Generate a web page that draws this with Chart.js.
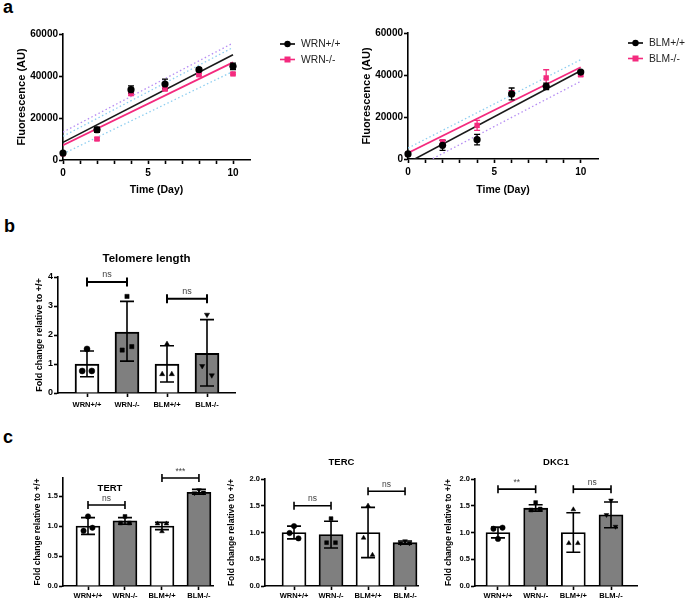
<!DOCTYPE html>
<html>
<head>
<meta charset="utf-8">
<script src="https://cdn.jsdelivr.net/npm/chart.js@4.4.0/dist/chart.umd.min.js"></script>
<style>
body { margin: 0; background: #fff; width: 685px; height: 601px; position: relative; overflow: hidden; font-family: Arial, "Liberation Sans", sans-serif; }
canvas { position: absolute; }
.lab { position: absolute; font-weight: bold; font-size: 18px; line-height: 18px; }
</style>
</head>
<body>
<div class="lab" style="left:3px;top:-2px">a</div>
<div class="lab" style="left:4px;top:217px">b</div>
<div class="lab" style="left:3px;top:428px">c</div>
<script>
/* ============ panel a : fluorescence over time ============ */
const days = [0, 2, 4, 6, 8, 10];
const dayTicks = [0, 1, 2, 3, 4, 5, 6, 7, 8, 9, 10];
const fluoTicks = [0, 20000, 40000, 60000];

const wrnWT = [3300, 14400, 33500, 36200, 43000, 44600];
const wrnWTsd = [400, 1200, 1800, 2300, 800, 1500];
const wrnKO = [3000, 10000, 31600, 33800, 40600, 41000];
const wrnKOsd = [300, 500, 700, 800, 500, 500];

const blmWT = [2400, 6500, 9200, 31000, 34600, 41400];
const blmWTsd = [300, 2400, 2500, 2800, 1500, 500];
const blmKO = [2400, 8100, 16000, 31400, 38600, 40100];
const blmKOsd = [300, 1000, 2400, 1200, 3900, 600];

// fit lines and 95% bands, read at day 0 and day 10
const fitDays = [0, 10];
const wrnWTfit = [8400, 50100];
const wrnKOfit = [7000, 46500];
const wrnBandHi1 = [13300, 55700];
const wrnBandHi2 = [11300, 53600];
const wrnBandLo = [2900, 42200];
const blmWTfit = [-1700, 42000];
const blmKOfit = [2900, 43700];
const blmBandHi = [5200, 47300];
const blmBandLo = [-6000, 37000];

/* ============ panel b : telomere length ============ */
const groups = ['WRN+/+', 'WRN-/-', 'BLM+/+', 'BLM-/-'];
const telBars = [1.0, 2.1, 1.0, 1.37];
const telLo = [0.56, 1.1, 0.38, 0.24];
const telHi = [1.45, 3.16, 1.63, 2.53];
const telPts = [[1.52, 0.76, 0.76], [3.33, 1.48, 1.6], [1.69, 0.65, 0.65], [2.7, 0.93, 0.61]];
const telSig = [[1, 2, 3.83, 'ns'], [3, 4, 3.25, 'ns']];
const telTicks = [0, 1, 2, 3, 4];

/* ============ panel c : TERT / TERC / DKC1 ============ */
const tertBars = [1.0, 1.085, 1.0, 1.56];
const tertLo = [0.86, 1.03, 0.94, 1.53];
const tertHi = [1.14, 1.14, 1.06, 1.61];
const tertPts = [[1.16, 0.92, 0.97], [1.16, 1.05, 1.05], [0.91, 1.04, 1.04], [1.6, 1.55, 1.56]];
const tertSig = [[1, 2, 1.35, 'ns'], [3, 4, 1.8, '***']];
const tertTicks = [0, 0.5, 1.0, 1.5];

const tercBars = [1.0, 0.96, 1.0, 0.81];
const tercLo = [0.88, 0.71, 0.53, 0.78];
const tercHi = [1.12, 1.21, 1.47, 0.84];
const tercPts = [[1.12, 0.99, 0.89], [1.26, 0.81, 0.81], [1.5, 0.9, 0.58], [0.84, 0.8, 0.8]];
const tercSig = [[1, 2, 1.5, 'ns'], [3, 4, 1.77, 'ns']];

const dkcBars = [1.0, 1.455, 1.0, 1.33];
const dkcLo = [0.9, 1.4, 0.63, 1.09];
const dkcHi = [1.1, 1.52, 1.37, 1.57];
const dkcPts = [[0.88, 1.07, 1.09], [1.56, 1.42, 1.44], [1.43, 0.8, 0.8], [1.6, 1.33, 1.11]];
const dkcSig = [[1, 2, 1.81, '**'], [3, 4, 1.81, 'ns']];
const foldTicks = [0, 0.5, 1.0, 1.5, 2.0];

/* ============ shared setup ============ */
const FONT = 'Arial, "Liberation Sans", sans-serif';
const PINK = '#f42a7e';
const GREY = '#7f7f7f';
const fills = ['#ffffff', GREY, '#ffffff', GREY];
const shapes = [['circle', 0], ['rect', 0], ['triangle', 0], ['triangle', 180]];
const jitter = [0, -0.12, 0.12];

Chart.defaults.font.family = FONT;
Chart.defaults.color = '#000';
Chart.defaults.animation = false;
Chart.defaults.responsive = false;
Chart.defaults.devicePixelRatio = 1;
Chart.defaults.plugins.legend.display = false;
Chart.defaults.plugins.tooltip.enabled = false;

const makeCanvas = (box) => {
    const c = document.createElement('canvas');
    c.width = box[2];
    c.height = box[3];
    c.style.left = box[0] + 'px';
    c.style.top = box[1] + 'px';
    document.body.appendChild(c);
    return c;
}

// box = canvas [x, y, w, h] on page, area = plot area [l, t, r, b] on page
const frame = (box, area, padLeft) => ({
    padding: { left: padLeft, top: area[1] - box[1], right: box[0] + box[2] - area[2], bottom: 0 },
    yWidth: area[0] - box[0] - padLeft,
    xHeight: box[1] + box[3] - area[3]
});

const axis = (size, pad) => ({
    border: { color: '#000', width: 1.6 },
    grid: { drawOnChartArea: false, tickLength: 4, tickColor: '#000', tickWidth: 1.6 },
    ticks: { color: '#000', padding: pad, autoSkip: false, maxRotation: 0, font: { size: size, weight: 'bold' } }
});

const drawErrors = (chart, errs, cap, lw) => {
    const { ctx, scales: { x, y } } = chart;
    ctx.save();
    ctx.lineWidth = lw;
    errs.forEach(e => {
        const px = x.getPixelForValue(e.x);
        const y1 = y.getPixelForValue(e.lo), y2 = y.getPixelForValue(e.hi);
        ctx.strokeStyle = e.color;
        ctx.beginPath();
        ctx.moveTo(px, y1); ctx.lineTo(px, y2);
        ctx.moveTo(px - cap, y1); ctx.lineTo(px + cap, y1);
        ctx.moveTo(px - cap, y2); ctx.lineTo(px + cap, y2);
        ctx.stroke();
    });
    ctx.restore();
}

const drawSig = (chart, sig, o) => {
    const { ctx, scales: { x, y } } = chart;
    ctx.save();
    ctx.strokeStyle = '#000';
    ctx.lineWidth = o.lw;
    ctx.fillStyle = '#444';
    ctx.font = o.size + 'px ' + FONT;
    ctx.textAlign = 'center';
    ctx.textBaseline = 'alphabetic';
    sig.forEach(([a, b, lvl, txt]) => {
        const x1 = x.getPixelForValue(a), x2 = x.getPixelForValue(b), yy = y.getPixelForValue(lvl);
        ctx.beginPath();
        ctx.moveTo(x1, yy); ctx.lineTo(x2, yy);
        ctx.moveTo(x1, yy - o.cap); ctx.lineTo(x1, yy + o.cap);
        ctx.moveTo(x2, yy - o.cap); ctx.lineTo(x2, yy + o.cap);
        ctx.stroke();
        ctx.fillText(txt, (x1 + x2) / 2, yy - o.gap);
    });
    ctx.restore();
}

/* ---------- line panels (a) ---------- */
const linePanel = (p) => {
    const f = frame(p.box, p.area, p.padLeft);
    const pts = (ys) => ys.map((v, i) => ({ x: days[i], y: v }));
    const fit = (ys) => ys.map((v, i) => ({ x: fitDays[i], y: v }));
    const errs = [];
    days.forEach((d, i) => {
        errs.push({ x: d, lo: p.ko[i] - p.koSd[i], hi: p.ko[i] + p.koSd[i], color: PINK });
        errs.push({ x: d, lo: p.wt[i] - p.wtSd[i], hi: p.wt[i] + p.wtSd[i], color: '#000' });
    });
    const datasets = [
        { data: pts(p.wt), pointStyle: 'circle', pointRadius: 3.6, backgroundColor: '#000', borderColor: '#000', borderWidth: 0, clip: false },
        { data: pts(p.ko), pointStyle: 'rect', pointRadius: 3.8, backgroundColor: PINK, borderColor: PINK, borderWidth: 0, clip: false },
        { data: fit(p.wtFit), showLine: true, pointRadius: 0, borderColor: '#1a1a1a', borderWidth: 1.6 },
        { data: fit(p.koFit), showLine: true, pointRadius: 0, borderColor: PINK, borderWidth: 1.8 }
    ];
    p.bands.forEach(b => {
        datasets.push({ data: fit(b[0]), showLine: true, pointRadius: 0, borderColor: b[1], borderWidth: 1.3, borderDash: [1.5, 2.5] });
    });

    const x = axis(10, 3);
    x.type = 'linear'; x.min = 0; x.max = 11;
    x.afterBuildTicks = s => { s.ticks = dayTicks.map(v => ({ value: v })); };
    x.ticks.callback = v => (v % 5 === 0 ? String(v) : '');
    x.title = { display: true, text: 'Time (Day)', color: '#000', font: { size: 10.5, weight: 'bold' } };
    x.afterFit = s => { s.height = f.xHeight; };

    const y = axis(10, 1);
    y.type = 'linear'; y.min = 0; y.max = 60000;
    y.afterBuildTicks = s => { s.ticks = fluoTicks.map(v => ({ value: v })); };
    y.ticks.callback = v => String(v);
    y.title = { display: true, text: 'Fluorescence (AU)', color: '#000', font: { size: 11, weight: 'bold' } };
    y.afterFit = s => { s.width = f.yWidth; };

    new Chart(makeCanvas(p.box), {
        type: 'scatter',
        data: { datasets: datasets },
        options: { layout: { padding: f.padding }, scales: { x: x, y: y } },
        plugins: [{
            id: 'extras',
            beforeDatasetDraw(chart, args) {
                if (args.index === 1) drawErrors(chart, errs, 3, 1.3);
            },
            afterDraw(chart) {
                const { ctx, chartArea } = chart;
                ctx.save();
                p.legend.forEach((it, i) => {
                    const lx = chartArea.right + 30, ly = chartArea.top + 10 + 15.5 * i;
                    ctx.strokeStyle = it[1]; ctx.fillStyle = it[1]; ctx.lineWidth = 1.6;
                    ctx.beginPath(); ctx.moveTo(lx, ly); ctx.lineTo(lx + 15, ly); ctx.stroke();
                    if (i === 0) { ctx.beginPath(); ctx.arc(lx + 7.5, ly, 3.2, 0, Math.PI * 2); ctx.fill(); }
                    else ctx.fillRect(lx + 4.5, ly - 3, 6, 6);
                    ctx.fillStyle = '#222';
                    ctx.font = '10.3px ' + FONT;
                    ctx.textBaseline = 'middle';
                    ctx.fillText(it[0], lx + 21, ly + 0.5);
                });
                ctx.restore();
            }
        }]
    });
}

linePanel({
    box: [0, 20, 345, 180], area: [63, 34, 250, 160], padLeft: 11,
    wt: wrnWT, wtSd: wrnWTsd, ko: wrnKO, koSd: wrnKOsd,
    wtFit: wrnWTfit, koFit: wrnKOfit,
    bands: [[wrnBandHi1, '#b58cf3'], [wrnBandHi2, '#8ccdf0'], [wrnBandLo, '#8ccdf0']],
    legend: [['WRN+/+', '#000'], ['WRN-/-', PINK]]
});
linePanel({
    box: [340, 20, 345, 180], area: [408, 33, 598, 159], padLeft: 16,
    wt: blmWT, wtSd: blmWTsd, ko: blmKO, koSd: blmKOsd,
    wtFit: blmWTfit, koFit: blmKOfit,
    bands: [[blmBandHi, '#8ccdf0'], [blmBandLo, '#b58cf3']],
    legend: [['BLM+/+', '#000'], ['BLM-/-', PINK]]
});

/* ---------- bar panels (b, c) ---------- */
const barPanel = (p) => {
    const f = frame(p.box, p.area, p.padLeft);
    const errs = groups.map((g, i) => ({ x: i + 1, lo: p.lo[i], hi: p.hi[i], color: '#000' }));
    const datasets = [{
        type: 'bar',
        data: p.bars.map((v, i) => ({ x: i + 1, y: v })),
        backgroundColor: fills,
        borderColor: '#000',
        borderWidth: p.bw,
        barThickness: 24,
        order: 2
    }];
    p.pts.forEach((vals, i) => {
        datasets.push({
            type: 'scatter',
            data: vals.map((v, j) => ({ x: i + 1 + jitter[j], y: v })),
            pointStyle: shapes[i][0],
            rotation: shapes[i][1],
            pointRadius: p.pr,
            backgroundColor: '#000',
            borderColor: '#000',
            borderWidth: 0.5,
            clip: false,
            order: 1
        });
    });

    const x = axis(p.xFont, p.xPad);
    x.type = 'linear'; x.min = p.xr[0]; x.max = p.xr[1]; x.offset = false;
    x.grid.offset = false;
    x.afterBuildTicks = s => { s.ticks = groups.map((g, i) => ({ value: i + 1 })); };
    x.ticks.callback = v => groups[v - 1];
    x.afterFit = s => { s.height = f.xHeight; };

    const y = axis(p.yFont, 1);
    y.type = 'linear'; y.min = 0; y.max = p.yMax;
    y.afterBuildTicks = s => { s.ticks = p.yTicks.map(v => ({ value: v })); };
    y.ticks.callback = v => v.toFixed(p.dec);
    y.title = { display: true, text: 'Fold change relative to +/+', color: '#000', font: { size: p.titleFont, weight: 'bold' } };
    y.afterFit = s => { s.width = f.yWidth; };

    new Chart(makeCanvas(p.box), {
        type: 'bar',
        data: { datasets: datasets },
        options: { layout: { padding: f.padding }, scales: { x: x, y: y } },
        plugins: [{
            id: 'extras',
            afterDatasetDraw(chart, args) {
                if (args.index === 0) drawErrors(chart, errs, 7, 1.6);
            },
            afterDraw(chart) {
                drawSig(chart, p.sig, p.sigStyle);
                const { ctx, chartArea } = chart;
                ctx.save();
                ctx.fillStyle = '#000';
                ctx.font = 'bold ' + p.title[1] + 'px ' + FONT;
                ctx.textAlign = 'center';
                ctx.textBaseline = 'middle';
                ctx.fillText(p.title[0], (chartArea.left + chartArea.right) / 2 + p.title[2], chartArea.top + p.title[3]);
                ctx.restore();
            }
        }]
    });
}

barPanel({
    box: [0, 240, 300, 175], area: [58, 277, 235, 393], padLeft: 30,
    bars: telBars, lo: telLo, hi: telHi, pts: telPts, sig: telSig,
    yMax: 4, yTicks: telTicks, dec: 0, xr: [0.275, 4.7],
    bw: 2, pr: 3, xFont: 7.5, xPad: 3, yFont: 9, titleFont: 9,
    sigStyle: { lw: 2, cap: 4.5, size: 9, gap: 5 },
    title: ['Telomere length', 11.5, 0, -18]
});
barPanel({
    box: [0, 445, 230, 156], area: [63, 478, 213, 586], padLeft: 29,
    bars: tertBars, lo: tertLo, hi: tertHi, pts: tertPts, sig: tertSig,
    yMax: 1.8, yTicks: tertTicks, dec: 1, xr: [0.324, 4.38],
    bw: 1.8, pr: 2.7, xFont: 7.5, xPad: 1, yFont: 7.5, titleFont: 8.5,
    sigStyle: { lw: 1.6, cap: 4, size: 8.5, gap: 4.5 },
    title: ['TERT', 9.5, -28, 10]
});
barPanel({
    box: [220, 445, 230, 156], area: [265, 479, 418, 586], padLeft: 3,
    bars: tercBars, lo: tercLo, hi: tercHi, pts: tercPts, sig: tercSig,
    yMax: 2, yTicks: foldTicks, dec: 1, xr: [0.216, 4.35],
    bw: 1.8, pr: 2.7, xFont: 7.5, xPad: 1, yFont: 7.5, titleFont: 8.5,
    sigStyle: { lw: 1.6, cap: 4, size: 8.5, gap: 4.5 },
    title: ['TERC', 9.5, 0, -17]
});
barPanel({
    box: [440, 445, 245, 156], area: [475, 479, 637, 586], padLeft: 0,
    bars: dkcBars, lo: dkcLo, hi: dkcHi, pts: dkcPts, sig: dkcSig,
    yMax: 2, yTicks: foldTicks, dec: 1, xr: [0.39, 4.69],
    bw: 1.8, pr: 2.7, xFont: 7.5, xPad: 1, yFont: 7.5, titleFont: 8.5,
    sigStyle: { lw: 1.6, cap: 4, size: 8.5, gap: 4.5 },
    title: ['DKC1', 9.5, 0, -17]
});
</script>
</body>
</html>
